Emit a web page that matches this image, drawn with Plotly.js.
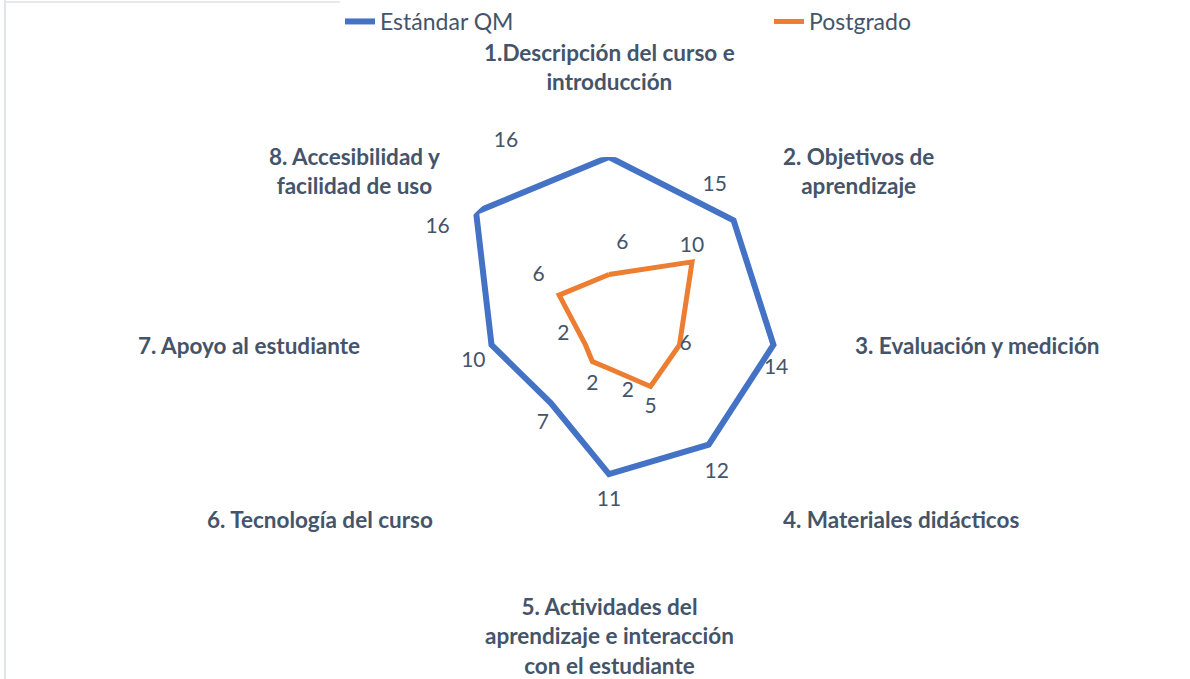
<!DOCTYPE html>
<html>
<head>
<meta charset="utf-8">
<script src="https://cdn.plot.ly/plotly-3.0.1.min.js"></script>
<style>
  body { margin: 0; background: #fff; }
  #chart { width: 1190px; height: 679px; }
</style>
</head>
<body>
<div id="chart"></div>
<script>
// categories (angular axis) and the two series
const categories = ['c1', 'c2', 'c3', 'c4', 'c5', 'c6', 'c7', 'c8'];
const categoryLabels = [
  '1.Descripción del curso e<br>introducción',
  '2. Objetivos de<br>aprendizaje',
  '3. Evaluación y medición',
  '4. Materiales didácticos',
  '5. Actividades del<br>aprendizaje e interacción<br>con el estudiante',
  '6. Tecnología del curso',
  '7. Apoyo al estudiante',
  '8. Accesibilidad y<br>facilidad de uso'
];
const estandarQM = [16, 15, 14, 12, 11, 7, 10, 16];
const postgrado = [6, 10, 6, 5, 2, 2, 2, 6];

const textColor = '#44546A';
const fontFam = 'Lato, "Open Sans", sans-serif';
const nb = n => '\u00a0'.repeat(n);

// close the polygons
function closed(arr) { return arr.concat([arr[0]]); }

// invisible markers only used to push the data labels away from the line
const qmTrace = {
  type: 'scatterpolar',
  name: 'Estándar QM',
  r: closed(estandarQM),
  theta: closed(categories),
  mode: 'lines+markers+text',
  text: ['16' + nb(16), '15' + nb(7), nb(1) + '14', nb(3) + '12', '11', '7' + nb(3), '10', '16' + nb(4), ''],
  textposition: ['top left', 'top center', 'bottom center', 'bottom center',
    'bottom center', 'bottom center', 'bottom left', 'bottom left', 'top left'],
  textfont: { size: 21, color: textColor, family: fontFam },
  marker: { size: [6, 37, 19, 27, 24, 14, 8, 6, 0], color: 'rgba(0,0,0,0)', line: { width: 0 } },
  line: { color: '#4472C4', width: 6 },
  cliponaxis: false,
  hoverinfo: 'skip'
};

const pgTrace = {
  type: 'scatterpolar',
  name: 'Postgrado',
  r: closed(postgrado),
  theta: closed(categories),
  mode: 'lines+markers+text',
  text: [nb(5) + '6', '10', '6', '5', '2', '2', '2' + nb(3), '6' + nb(1), ''],
  textposition: ['top center', 'top center', 'middle right', 'bottom center',
    'bottom right', 'bottom center', 'top left', 'top left', 'top left'],
  textfont: { size: 21, color: textColor, family: fontFam },
  marker: { size: [30, 6, 0, 16, 19, 18, 0, 13, 0], color: 'rgba(0,0,0,0)', line: { width: 0 } },
  line: { color: '#ED7D31', width: 5 },
  cliponaxis: false,
  hoverinfo: 'skip'
};

// category label positions around the chart (paper coords)
const labelPos = [
  [609, 67], [858, 171], [977, 345], [901, 519],
  [609, 636], [320, 519], [249, 345], [354, 171]
];
const W = 1190, H = 679;
const annotations = categoryLabels.map((t, i) => ({
  text: '<b>' + t + '</b>',
  xref: 'paper', yref: 'paper',
  x: labelPos[i][0] / W, y: 1 - labelPos[i][1] / H,
  xanchor: 'center', yanchor: 'middle',
  showarrow: false,
  font: { size: 22.5, color: textColor, family: fontFam }
}));

const layout = {
  width: W, height: H,
  margin: { l: 0, r: 0, t: 0, b: 0, autoexpand: false },
  paper_bgcolor: '#fff',
  showlegend: true,
  legend: {
    orientation: 'h',
    x: 340 / W, xanchor: 'left',
    y: 1, yanchor: 'top',
    entrywidth: 384,
    font: { size: 23, color: textColor, family: fontFam }
  },
  polar: {
    domain: { x: [0.3538, 0.6697], y: [0.215, 0.769] },
    bgcolor: 'rgba(0,0,0,0)',
    angularaxis: {
      direction: 'clockwise', rotation: 90,
      showline: false, showgrid: false, showticklabels: false, ticks: ''
    },
    radialaxis: { visible: false, range: [0, 16], showgrid: false }
  },
  annotations: annotations,
  shapes: [
    { type: 'line', xref: 'paper', yref: 'paper', x0: 5 / W, x1: 5 / W, y0: 0, y1: 1,
      line: { color: '#E1E5EA', width: 2 } },
    { type: 'line', xref: 'paper', yref: 'paper', x0: 5 / W, x1: 1, y0: 1 - 2 / H, y1: 1 - 2 / H,
      line: { color: '#E6E9EE', width: 2 } }
  ]
};

Plotly.newPlot('chart', [qmTrace, pgTrace], layout, { displayModeBar: false });
</script>
</body>
</html>
